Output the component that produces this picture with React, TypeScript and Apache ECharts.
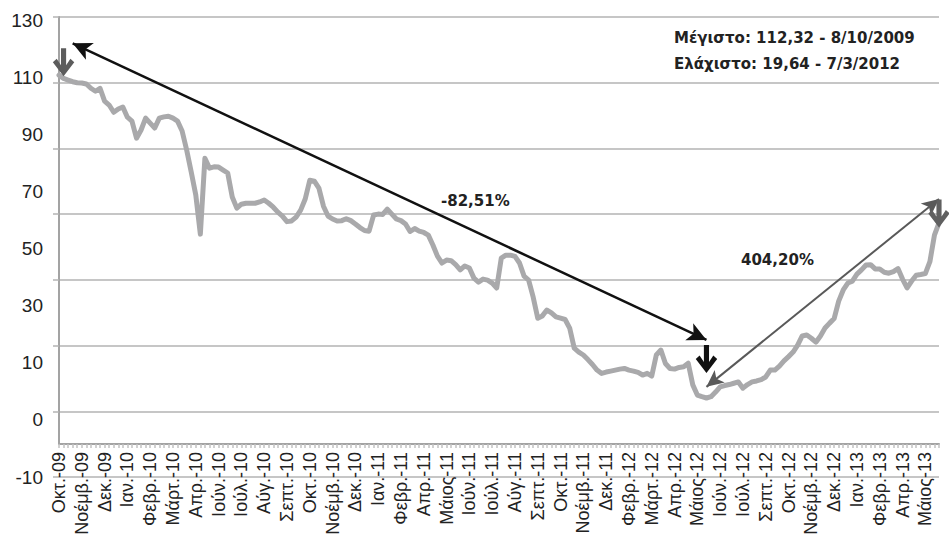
import React, { useEffect, useRef } from "react";
import * as echarts from "echarts";

// Month labels shown on the category axis (one every 5 sampled points)
const xLabels = [
  "Οκτ.-09", "Νοέμβ.-09", "Δεκ.-09", "Ιαν.-10", "Φεβρ.-10", "Μάρτ.-10", "Απρ.-10",
  "Ιούν.-10", "Ιούλ.-10", "Αύγ.-10", "Σεπτ.-10", "Οκτ.-10", "Νοέμβ.-10", "Δεκ.-10",
  "Ιαν.-11", "Φεβρ.-11", "Απρ.-11", "Μάιος-11", "Ιούν.-11", "Ιούλ.-11", "Αύγ.-11",
  "Σεπτ.-11", "Οκτ.-11", "Νοέμβ.-11", "Δεκ.-11", "Φεβρ.-12", "Μάρτ.-12", "Απρ.-12",
  "Μάιος-12", "Ιούν.-12", "Ιούλ.-12", "Σεπτ.-12", "Οκτ.-12", "Νοέμβ.-12", "Δεκ.-12",
  "Ιαν.-13", "Φεβρ.-13", "Απρ.-13", "Μάιος-13",
];
const pointsPerLabel = 5;

// Index level, split by period
const seg2009 = [112.3, 111.3, 110.8, 110.3, 110.0, 109.9, 109.6, 108.3, 107.4, 108.3, 104.4, 103.2, 101.0, 102.0, 102.6];
const seg2010 = [
  99.5, 98.3, 93.1, 95.6, 99.2, 97.7, 96.2, 99.2, 99.6, 99.8,
  99.2, 98.3, 95.3, 89.5, 82.8, 75.8, 63.9, 87.0, 84.0, 84.4,
  84.3, 83.4, 82.5, 75.2, 71.8, 73.0, 73.3, 73.3, 73.3, 73.7,
  74.3, 73.3, 72.1, 70.6, 69.4, 67.7, 67.9, 69.1, 71.2, 74.6,
  80.3, 80.0, 77.9, 72.4, 69.4, 68.5, 67.9, 68.0, 68.6, 68.0,
  67.0, 65.9, 65.0, 64.8, 69.7,
];
const seg2011 = [
  70.0, 69.9, 71.5, 70.0, 68.5, 68.0, 67.0, 64.7, 65.6, 64.8,
  64.4, 63.6, 60.6, 57.2, 55.1, 56.0, 55.8, 54.6, 53.0, 54.2,
  53.6, 50.5, 49.3, 50.2, 49.9, 49.0, 47.5, 56.6, 57.5, 57.5,
  57.1, 55.1, 51.1, 49.9, 44.7, 38.3, 39.0, 40.8, 39.9, 38.7,
  38.3, 37.9, 35.3, 29.2, 28.0, 27.1, 25.7, 24.2, 22.5, 21.5,
  21.9, 22.2, 22.5, 22.8, 23.0,
];
const seg2012 = [
  22.5, 22.2, 21.8, 21.0, 21.5, 20.7, 27.1, 28.6, 24.5, 23.0,
  22.8, 23.3, 23.5, 24.6, 18.0, 14.9, 14.4, 14.0, 14.4, 15.8,
  17.4, 17.8, 18.1, 18.5, 18.9, 17.0, 18.1, 18.9, 19.2, 19.6,
  20.4, 22.5, 22.5, 23.7, 25.3, 26.6, 28.0, 30.1, 32.9, 33.2,
  32.2, 31.0, 32.9, 35.3, 36.8, 38.2, 43.5, 46.9, 49.0, 49.6,
  51.7, 53.0, 54.5, 54.6, 53.3,
];
const seg2013 = [53.3, 52.3, 52.0, 52.5, 53.4, 50.2, 47.5, 49.6, 51.4, 51.6, 51.9, 55.5, 63.6, 67.3];

// Y tick labels as printed on the chart (bottom to top)
const yTickLabels = ["-10", "0", "10", "30", "50", "70", "90", "110", "130"];

// Annotations (in data coordinates: [point index, value])
const maxNote = "Μέγιστο: 112,32 - 8/10/2009";
const minNote = "Ελάχιστο: 19,64 - 7/3/2012";
const dropLabel = "-82,51%";
const riseLabel = "404,20%";
const dropArrow = [[2.8, 122.0], [141.7, 31.7]];
const riseArrow = [[142.1, 17.4], [192.8, 74.6]];
const pointerMarks = [[1.3, 116.2], [141.7, 25.9], [193.2, 70.2]];
const pointerColors = ["#5c5c5c", "#111111", "#606060"];

const downArrowPath =
  "path://M9.5 0 L15.5 0 L15.5 17 L20.5 10.5 L25 14 L12.5 28 L0 14 L4.5 10.5 L9.5 17 Z";

export default function App() {
  const ref = useRef<HTMLDivElement>(null);

  useEffect(() => {
    if (!ref.current) return;
    const chart = echarts.init(ref.current, null, { renderer: "svg" });

    const values = [...seg2009, ...seg2010, ...seg2011, ...seg2012, ...seg2013];
    const categories = values.map((_, i) => {
      const k = Math.floor(i / pointsPerLabel);
      const j = i % pointsPerLabel;
      return j === 0 ? xLabels[k] : `${xLabels[k]} ${j}`;
    });

    const font = "'Liberation Sans', Arial, Helvetica, sans-serif";
    const boldFont = "bold 15px 'DejaVu Sans', sans-serif";
    const textColor = "#222222";
    const axisGray = "#a3a3a3";
    const gridGray = "#b3b3b3";

    chart.setOption({
      animation: false,
      grid: [
        // 0: data grid (0 .. 130)
        { left: 59, top: 17, right: 10, height: 427, containLabel: false, outerBoundsMode: "none" },
        // 1: gridline grid (reaches one band below the x axis)
        { left: 59, top: 17, right: 10, height: 460, containLabel: false, outerBoundsMode: "none" },
        // 2: printed y labels
        { left: 49, top: 20, width: 1, height: 457, containLabel: false, outerBoundsMode: "none" },
      ],
      xAxis: [
        {
          type: "category",
          gridIndex: 0,
          data: categories,
          boundaryGap: false,
          axisLine: { show: true, onZero: false, lineStyle: { color: axisGray, width: 2 } },
          axisTick: {
            show: true,
            interval: 0,
            length: 4,
            lineStyle: { color: "#c2c2c2", width: 1.5 },
          },
          axisLabel: {
            interval: pointsPerLabel - 1,
            rotate: 90,
            margin: 8,
            fontSize: 18,
            fontFamily: font,
            color: textColor,
          },
          splitLine: { show: false },
        },
        { type: "value", gridIndex: 1, show: false },
        { type: "value", gridIndex: 2, show: false },
      ],
      yAxis: [
        {
          type: "value",
          gridIndex: 0,
          min: 0,
          max: 130,
          axisLabel: { show: false },
          axisTick: { show: false },
          axisLine: { show: true, lineStyle: { color: axisGray, width: 2 } },
          splitLine: { show: false },
        },
        {
          type: "value",
          gridIndex: 1,
          min: 0,
          max: 140,
          interval: 20,
          axisLabel: { show: false },
          axisLine: { show: false },
          axisTick: { show: true, length: 6, lineStyle: { color: gridGray, width: 1.5 } },
          splitLine: { show: true, lineStyle: { color: gridGray, width: 1.5 } },
        },
        {
          type: "category",
          gridIndex: 2,
          data: yTickLabels,
          boundaryGap: false,
          axisLine: { show: false },
          axisTick: { show: false },
          splitLine: { show: false },
          axisLabel: { margin: 6, fontSize: 19, fontFamily: font, color: textColor },
        },
      ],
      series: [
        {
          type: "line",
          xAxisIndex: 0,
          yAxisIndex: 0,
          data: values,
          showSymbol: false,
          symbol: "none",
          clip: false,
          z: 3,
          lineStyle: { color: "#a9a9ab", width: 5, join: "round", cap: "round" },
          markLine: {
            silent: true,
            symbol: ["arrow", "arrow"],
            symbolSize: [14, 19],
            label: { show: false },
            data: [
              [
                { coord: dropArrow[0], lineStyle: { color: "#111111", width: 2.5, type: "solid" } },
                { coord: dropArrow[1], lineStyle: { color: "#111111", width: 2.5, type: "solid" } },
              ],
              [
                { coord: riseArrow[0], symbolSize: [12, 17], lineStyle: { color: "#595959", width: 2, type: "solid" } },
                { coord: riseArrow[1], symbolSize: [12, 17], lineStyle: { color: "#595959", width: 2, type: "solid" } },
              ],
            ],
          },
          markPoint: {
            silent: true,
            symbol: downArrowPath,
            symbolSize: [24, 28],
            symbolKeepAspect: true,
            label: { show: false },
            data: pointerMarks.map((c, i) => ({
              coord: c,
              itemStyle: { color: pointerColors[i] },
            })),
          },
        },
      ],
      graphic: [
        {
          type: "text",
          x: 674,
          y: 38,
          style: { text: maxNote, font: boldFont, fill: textColor, verticalAlign: "middle" },
        },
        {
          type: "text",
          x: 674,
          y: 64,
          style: { text: minNote, font: boldFont, fill: textColor, verticalAlign: "middle" },
        },
        {
          type: "text",
          x: 441,
          y: 201,
          style: { text: dropLabel, font: boldFont, fill: textColor, verticalAlign: "middle" },
        },
        {
          type: "text",
          x: 741,
          y: 260,
          style: { text: riseLabel, font: boldFont, fill: textColor, verticalAlign: "middle" },
        },
      ],
    });

    return () => chart.dispose();
  }, []);

  return (
    <div
      ref={ref}
      style={{ position: "fixed", left: 0, top: 0, width: 949, height: 541, background: "#ffffff" }}
    />
  );
}
